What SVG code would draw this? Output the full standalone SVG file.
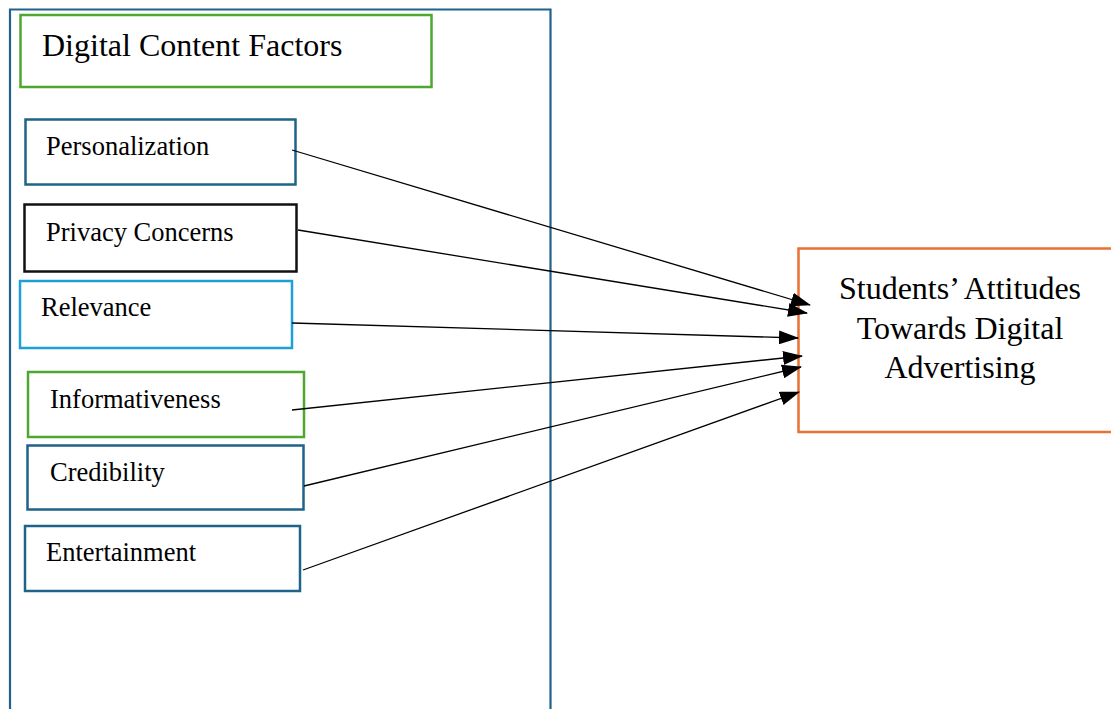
<svg xmlns="http://www.w3.org/2000/svg" width="1111" height="709" viewBox="0 0 1111 709">
<defs>
<style>
text{font-family:"Liberation Serif","Times New Roman",serif;fill:#000}
.f{font-size:26.5px}
.box{fill:#fff;stroke-width:2.5}
.c{stroke:#000;stroke-width:1.3;fill:none;marker-end:url(#ah)}
</style>
<marker id="ah" markerUnits="userSpaceOnUse" markerWidth="20" markerHeight="14" viewBox="0 0 20 14" refX="19" refY="7" orient="auto">
<path d="M0,0 L20,7 L0,14 Z" fill="#000"/>
</marker>
</defs>
<rect width="1111" height="709" fill="#fff"/>
<g id="container">
<path d="M10,712 V9.5 H550.5 V712" fill="none" stroke="#1f6389" stroke-width="2.2"/>
</g>
<g id="title">
<rect x="20.5" y="15" width="411" height="72" fill="#fff" stroke="#4ea72e" stroke-width="2.5"/>
<text x="42" y="56" font-size="32">Digital Content Factors</text>
</g>
<g id="personalization">
<rect class="box" x="25.5" y="119.5" width="270" height="65" stroke="#1f6389"/>
<text class="f" x="46" y="155">Personalization</text>
</g>
<g id="privacy">
<rect class="box" x="24.5" y="204.5" width="272" height="67" stroke="#111"/>
<text class="f" x="46" y="241">Privacy Concerns</text>
</g>
<g id="relevance">
<rect class="box" x="20" y="281" width="272" height="67" stroke="#1f9fd8"/>
<text class="f" x="41" y="316">Relevance</text>
</g>
<g id="informativeness">
<rect class="box" x="28" y="372" width="276" height="65" stroke="#4ea72e"/>
<text class="f" x="50" y="408">Informativeness</text>
</g>
<g id="credibility">
<rect class="box" x="27.5" y="445.5" width="276" height="64" stroke="#1f6389"/>
<text class="f" x="50" y="481">Credibility</text>
</g>
<g id="entertainment">
<rect class="box" x="25" y="526" width="275" height="65" stroke="#1f6389"/>
<text class="f" x="46" y="561">Entertainment</text>
</g>
<g id="attitudes">
<path d="M1114,248.5 H798.5 V432 H1114" fill="#fff" stroke="#e97132" stroke-width="2.5"/>
<text x="960" y="299" font-size="32" text-anchor="middle">Students’ Attitudes</text>
<text x="960" y="339" font-size="32" text-anchor="middle">Towards Digital</text>
<text x="960" y="378" font-size="32" text-anchor="middle">Advertising</text>
</g>
<g id="connectors">
<line class="c" x1="292" y1="150" x2="810" y2="305"/>
<line class="c" x1="298" y1="230" x2="807" y2="313"/>
<line class="c" x1="292" y1="323" x2="798" y2="338"/>
<line class="c" x1="292" y1="410" x2="802" y2="356"/>
<line class="c" x1="304" y1="486" x2="801" y2="367"/>
<line class="c" x1="303" y1="570" x2="799" y2="392"/>
</g>
</svg>
